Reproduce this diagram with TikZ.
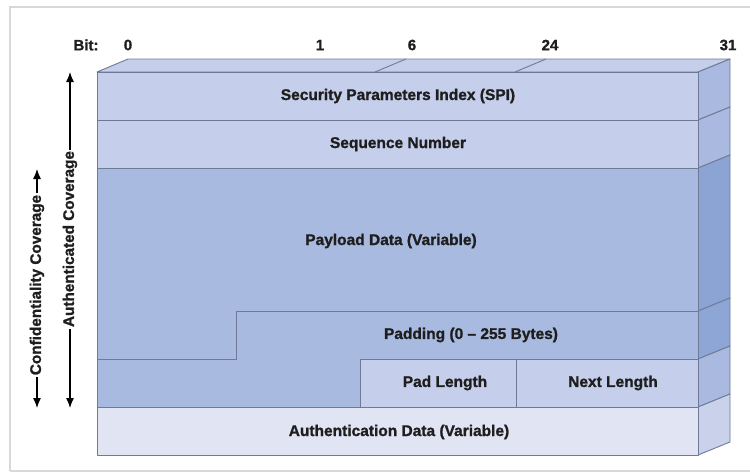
\documentclass[tikz,border=0pt]{standalone}
\usepackage{fontspec}
\setmainfont[FakeBold=1.2]{Liberation Sans}
\usetikzlibrary{arrows.meta}
\definecolor{rowlight}{HTML}{C5CEEA}
\definecolor{rowmid}{HTML}{A9BAE0}
\definecolor{rowauth}{HTML}{E1E5F3}
\definecolor{sidelight}{HTML}{A9B9DF}
\definecolor{sidedark}{HTML}{8BA4D4}
\definecolor{sideauth}{HTML}{C9D1EB}
\definecolor{edge}{HTML}{6F7B96}
\definecolor{framegrey}{HTML}{D8D8D8}
\definecolor{ink}{HTML}{1E1E1E}
\tikzset{
  face/.style={draw=edge, line width=0.9pt, line join=round},
  lbl/.style={font=\bfseries\fontsize{15.5}{17}\selectfont, text=ink, inner sep=0pt},
  bitlbl/.style={font=\bfseries\fontsize{15}{17}\selectfont, text=ink, inner sep=0pt},
  covlbl/.style={font=\bfseries\fontsize{15.3}{17}\selectfont, text=ink, fill=white, inner sep=1.5pt, rotate=90},
  covarrow/.style={line width=1.2pt, {Latex[length=10pt,width=8pt]}-{Latex[length=10pt,width=8pt]}},
}
\begin{document}
\begin{tikzpicture}[x=1pt,y=-1pt]
\useasboundingbox (0,0) rectangle (750,475);
\fill[white] (0,0) rectangle (750,475);
\draw[framegrey, line width=1.2pt] (10,471) -- (10,7) -- (752,7);
\draw[framegrey, line width=1.2pt] (10,471) -- (752,471);

% top face
\draw[face, fill=rowlight] (97,72) -- (128,59) -- (730,59) -- (698,72) -- cycle;
\draw[face] (375,72) -- (406,59);
\draw[face] (515,72) -- (546,59);

% side faces
\draw[face, fill=sidelight] (698,72) -- (730,59) -- (730,107) -- (698,120) -- cycle;
\draw[face, fill=sidelight] (698,120) -- (730,107) -- (730,155) -- (698,168) -- cycle;
\draw[face, fill=sidedark] (698,168) -- (730,155) -- (730,298) -- (698,311) -- cycle;
\draw[face, fill=sidedark!92!sidelight] (698,311) -- (730,298) -- (730,346) -- (698,359) -- cycle;
\draw[face, fill=sidelight] (698,359) -- (730,346) -- (730,394) -- (698,407) -- cycle;
\draw[face, fill=sideauth] (698,407) -- (730,394) -- (730,442) -- (698,455) -- cycle;

% front rows
\draw[face, fill=rowlight] (97,72) rectangle (698,120);
\draw[face, fill=rowlight] (97,120) rectangle (698,168);
\draw[face, fill=rowmid] (97,168) -- (698,168) -- (698,311) -- (236,311) -- (236,359) -- (97,359) -- cycle;
\draw[face, fill=rowmid] (236,311) -- (698,311) -- (698,359) -- (360,359) -- (360,407) -- (97,407) -- (97,359) -- (236,359) -- cycle;
\draw[face, fill=rowlight] (360,359) rectangle (516,407);
\draw[face, fill=rowlight] (516,359) rectangle (698,407);
\draw[face, fill=rowauth] (97,407) rectangle (698,455);

% labels
\node[lbl] (spi) at (398,96) {Security Parameters Index (SPI)};
\node[lbl] (seq) at (398,144) {Sequence Number};
\node[lbl] (pay) at (391,241) {Payload Data (Variable)};
\node[lbl] (pad) at (471,335) {Padding (0 -- 255 Bytes)};
\node[lbl] (padlen) at (445,383) {Pad Length};
\node[lbl] (nextlen) at (613,383) {Next Length};
\node[lbl] (auth) at (399,432) {Authentication Data (Variable)};

% bit labels
\node[bitlbl] (bit) at (86,45) {Bit:};
\node[bitlbl] (b0) at (128,45) {0};
\node[bitlbl] (b1) at (320,45) {1};
\node[bitlbl] (b6) at (412,45) {6};
\node[bitlbl] (b24) at (550,45) {24};
\node[bitlbl] (b31) at (728,45) {31};

% coverage arrows
\coordinate (ctop) at (37,169);
\coordinate (cbot) at (37,408);
\coordinate (atop) at (70,72);
\coordinate (abot) at (70,408);
\draw[covarrow] (ctop) -- (cbot);
\draw[covarrow] (atop) -- (abot);
\node[covlbl] (conf) at (37,285) {Confidentiality Coverage};
\node[covlbl] (authc) at (70,239) {Authenticated Coverage};
\end{tikzpicture}
\end{document}
